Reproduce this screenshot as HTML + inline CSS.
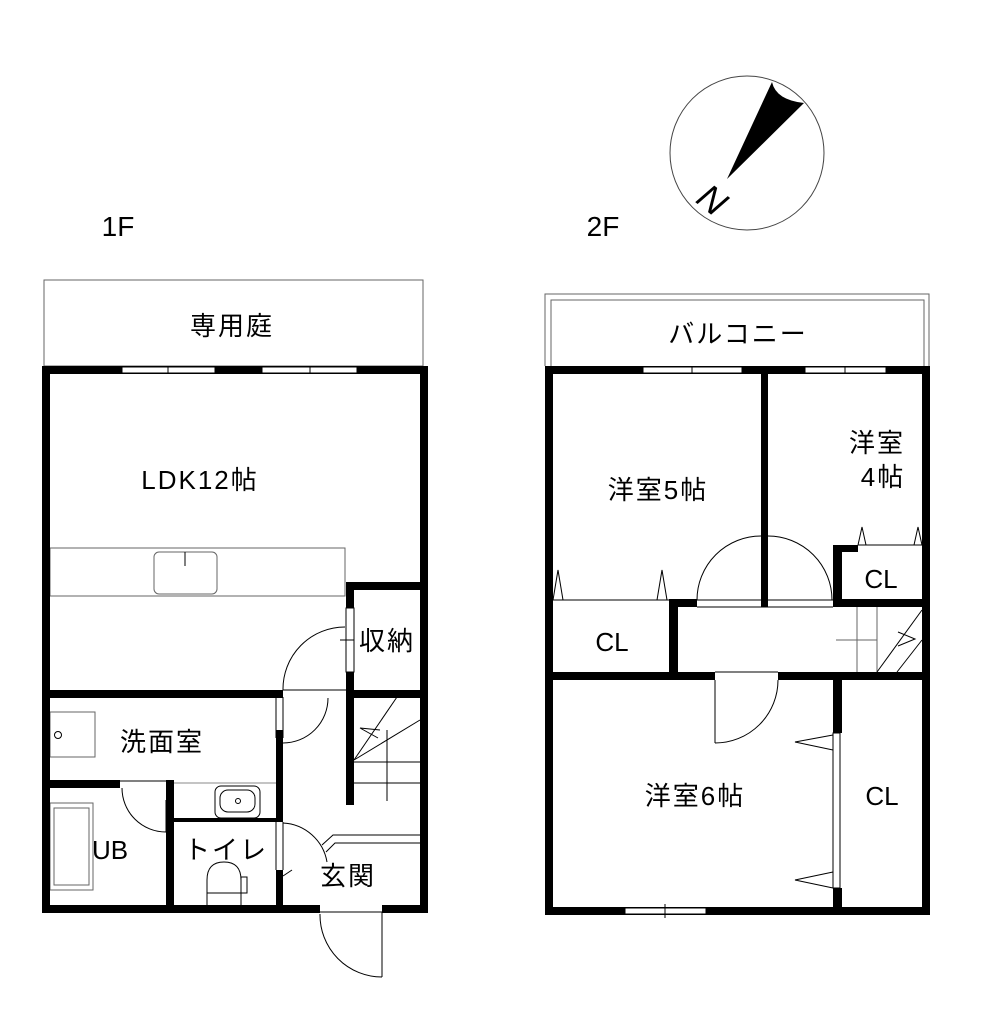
<!DOCTYPE html>
<html><head><meta charset="utf-8"><style>
html,body{margin:0;padding:0;background:#fff;}
svg{display:block}
text{font-family:"Liberation Sans","Noto Sans CJK JP",sans-serif;fill:#000}
.t{font-size:26px;letter-spacing:2px}
.c{font-size:26px}
</style></head><body>
<svg width="985" height="1024" viewBox="0 0 985 1024" xmlns="http://www.w3.org/2000/svg">
<g fill="none" stroke="#000" stroke-width="1">
<circle cx="747" cy="153" r="77" stroke="#444"/>
</g>
<path d="M727,179 L772,82 Q776,100 804,103 Z" fill="#000"/>
<text x="712" y="212" font-family="Liberation Serif,serif" font-size="36" font-style="italic" transform="rotate(38 712 200)" text-anchor="middle">N</text>

<text x="118" y="236" font-size="28" text-anchor="middle">1F</text>
<text x="603" y="236" font-size="28" text-anchor="middle">2F</text>

<!-- ========== 1F ========== -->
<g fill="none" stroke="#000" stroke-width="1">
<rect x="44" y="280" width="379" height="86" stroke="#666"/>
<rect x="50" y="548" width="295" height="48" stroke="#666"/>
<rect x="154" y="552" width="63" height="42" rx="5" stroke="#666"/>
<line x1="185" y1="552" x2="185" y2="566"/>
<rect x="346" y="608" width="8" height="64" fill="#fff"/>
<line x1="340" y1="640" x2="354" y2="640"/>
<path d="M345,627 A62,62 0 0 0 283,690"/>
<line x1="283" y1="690" x2="346" y2="690"/>
<line x1="276" y1="697" x2="276" y2="738"/><line x1="283" y1="697" x2="283" y2="738"/>
<path d="M328,698 A45,45 0 0 1 283,743"/>
<line x1="387" y1="730" x2="387" y2="801"/>
<line x1="354" y1="762" x2="420" y2="762"/>
<line x1="354" y1="783" x2="420" y2="783"/>
<line x1="354" y1="760" x2="397" y2="697"/>
<line x1="354" y1="760" x2="420" y2="720"/>
<polyline points="380,730 360,728 378,738"/>
<line x1="276" y1="822" x2="276" y2="870"/><line x1="283" y1="822" x2="283" y2="870"/>
<path d="M283,823 A47,47 0 0 1 327,862"/>
<line x1="283" y1="876" x2="292" y2="870"/>
<polyline points="322,845 333,835 420,835"/>
<polyline points="326,852 335,843 420,843"/>
<rect x="50" y="712" width="45" height="45" stroke="#666"/>
<circle cx="58" cy="735" r="3.5"/>
<line x1="120" y1="781" x2="166" y2="781"/>
<path d="M122,788 A44,44 0 0 0 166,832"/>
<line x1="166" y1="832" x2="166" y2="800"/>
<rect x="50" y="803" width="43" height="87" stroke="#666"/>
<rect x="54" y="808" width="35" height="77" stroke="#666"/>
<line x1="174" y1="783" x2="276" y2="783" stroke="#888"/>
<rect x="215" y="786" width="45" height="32" rx="6"/>
<rect x="220" y="790" width="35" height="22" rx="8"/>
<circle cx="238" cy="801" r="2.5"/>
<path d="M207,905 L207,880 Q207,862 224,862 Q241,862 241,880 L241,905"/>
<line x1="207" y1="893" x2="241" y2="893"/>
<rect x="241" y="877" width="6" height="16"/>
<line x1="320" y1="912" x2="382" y2="912"/>
<line x1="382" y1="912" x2="382" y2="977"/>
<path d="M320,914 A62,62 0 0 0 382,977"/>
</g>
<g fill="#000">
<rect x="42" y="366" width="386" height="8"/>
<rect x="42" y="366" width="8" height="547"/>
<rect x="420" y="366" width="8" height="547"/>
<rect x="42" y="905" width="278" height="8"/>
<rect x="382" y="905" width="46" height="8"/>
<rect x="42" y="690" width="241" height="8"/>
<rect x="346" y="582" width="82" height="8"/>
<rect x="346" y="582" width="8" height="26"/>
<rect x="346" y="672" width="8" height="133"/>
<rect x="354" y="690" width="74" height="8"/>
<rect x="276" y="730" width="7" height="92"/>
<rect x="276" y="870" width="7" height="40"/>
<rect x="42" y="780" width="78" height="8"/>
<rect x="166" y="780" width="8" height="130"/>
<rect x="174" y="818" width="102" height="4"/>
</g>
<g stroke="#000" stroke-width="1" fill="#fff"><rect x="122" y="367" width="93" height="6"/><rect x="262" y="367" width="95" height="6"/><line x1="168" y1="366" x2="168" y2="374"/><line x1="310" y1="366" x2="310" y2="374"/></g>

<text x="232" y="335" class="t" text-anchor="middle">専用庭</text>
<text x="200" y="489" class="t" text-anchor="middle">LDK12帖</text>
<text x="387" y="650" class="t" text-anchor="middle">収納</text>
<text x="162" y="751" class="t" text-anchor="middle">洗面室</text>
<text x="110" y="859" class="c" text-anchor="middle">UB</text>
<text x="226" y="859" class="t" text-anchor="middle">トイレ</text>
<text x="348" y="885" class="t" text-anchor="middle">玄関</text>

<!-- ========== 2F ========== -->
<g fill="none" stroke="#000" stroke-width="1">
<path d="M545,366 L545,294 L929,294 L929,366" stroke="#666"/>
<path d="M551,366 L551,300 L924,300 L924,366" stroke="#666"/>
<line x1="553" y1="600" x2="669" y2="600"/>
<path d="M553,600 L558,570 L563,600 M657,600 L662,570 L667,600"/>
<line x1="697" y1="600" x2="761" y2="600"/><line x1="768" y1="600" x2="833" y2="600"/>
<line x1="697" y1="607" x2="833" y2="607"/>
<path d="M697,600 A64,64 0 0 1 761,536"/>
<path d="M768,536 A64,64 0 0 1 832,600"/>
<line x1="858" y1="545" x2="922" y2="545"/>
<path d="M858,545 L862,527 L866,545 M914,545 L918,527 L922,545"/>
<line x1="857" y1="607" x2="857" y2="672" stroke="#666"/>
<line x1="877" y1="607" x2="877" y2="672" stroke="#666"/>
<line x1="836" y1="640" x2="877" y2="640" stroke="#666"/>
<line x1="877" y1="672" x2="922" y2="610"/>
<line x1="897" y1="672" x2="922" y2="640"/>
<polyline points="898,632 915,639 898,646"/>
<line x1="715" y1="680" x2="715" y2="743"/>
<path d="M778,680 A63,63 0 0 1 715,743"/>
<path d="M833,735 L795,742 L833,750 M833,872 L795,880 L833,888"/>
</g>
<g fill="#000">
<rect x="545" y="366" width="385" height="8"/>
<rect x="545" y="366" width="8" height="549"/>
<rect x="922" y="366" width="8" height="549"/>
<rect x="545" y="907" width="385" height="8"/>
<rect x="761" y="366" width="7" height="241"/>
<rect x="833" y="545" width="25" height="7"/>
<rect x="833" y="545" width="9" height="62"/>
<rect x="833" y="599" width="97" height="8"/>
<rect x="669" y="599" width="28" height="8"/>
<rect x="669" y="599" width="9" height="75"/>
<rect x="545" y="672" width="170" height="8"/>
<rect x="778" y="672" width="152" height="8"/>
<rect x="833" y="680" width="9" height="53"/>
<rect x="833" y="888" width="9" height="24"/>
</g>
<g fill="#fff" stroke="#000" stroke-width="1">
<rect x="643" y="367" width="99" height="6"/>
<rect x="805" y="367" width="81" height="6"/>
<rect x="625" y="908" width="81" height="6"/>
</g>
<g stroke="#000" stroke-width="1">
<line x1="692" y1="366" x2="692" y2="374"/><line x1="845" y1="366" x2="845" y2="374"/><line x1="665" y1="904" x2="665" y2="918"/>
<line x1="715" y1="672" x2="778" y2="672"/><line x1="715" y1="680" x2="715" y2="743"/>
<rect x="833" y="733" width="7" height="155" fill="#fff"/>
</g>

<text x="738" y="343" class="t" text-anchor="middle">バルコニー</text>
<text x="658" y="499" class="t" text-anchor="middle">洋室5帖</text>
<text x="877" y="452" class="t" text-anchor="middle">洋室</text>
<text x="883" y="486" class="t" text-anchor="middle">4帖</text>
<text x="881" y="588" class="c" text-anchor="middle">CL</text>
<text x="612" y="651" class="c" text-anchor="middle">CL</text>
<text x="695" y="805" class="t" text-anchor="middle">洋室6帖</text>
<text x="882" y="805" class="c" text-anchor="middle">CL</text>
</svg>
</body></html>
